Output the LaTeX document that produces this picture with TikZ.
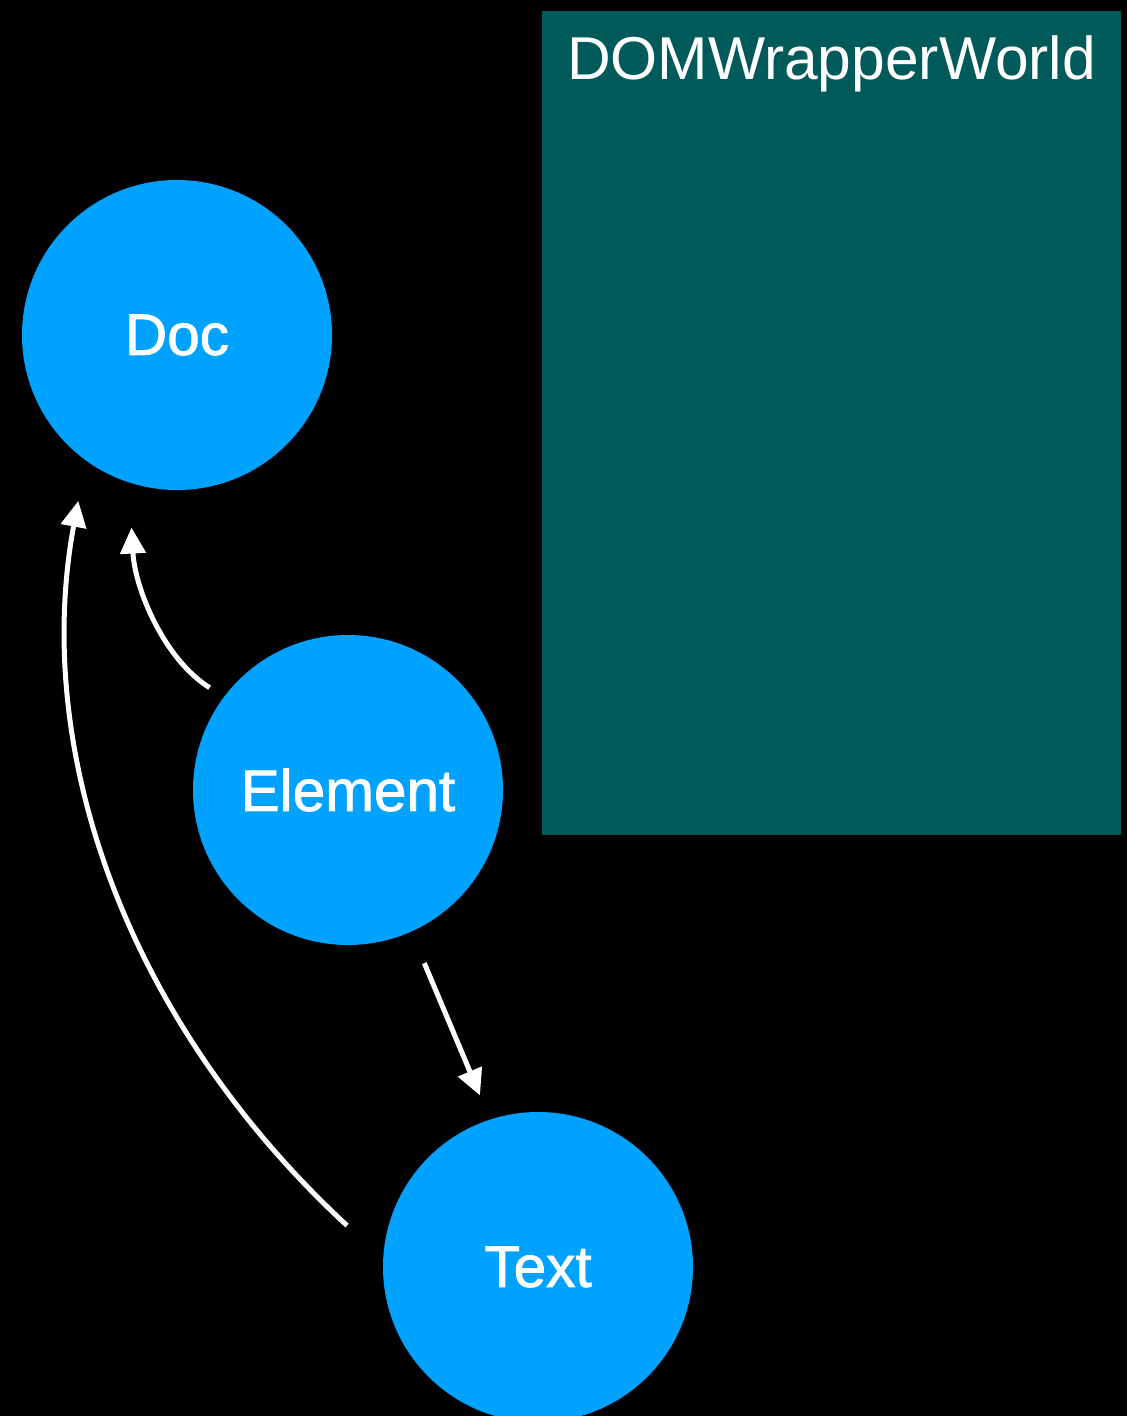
\documentclass[tikz,border=0pt]{standalone}
\usepackage{fontspec}
\setmainfont{Liberation Sans}
\newfontfamily\objfont{Liberation Sans}[FakeBold=1.4]
\usetikzlibrary{arrows.meta}
\definecolor{nodeblue}{RGB}{0,162,255}
\definecolor{worldteal}{RGB}{0,90,90}
\tikzset{
  obj/.style={circle, fill=nodeblue, draw=none, minimum size=310pt, inner sep=0pt,
    text=white, font=\objfont\fontsize{58.5}{62}\selectfont},
  ref/.style={draw=white, line width=5pt, -{Triangle[length=26pt,width=25pt]}},
  worldbox/.style={rectangle, fill=worldteal, draw=none, inner sep=0pt,
    minimum width=579pt, minimum height=824pt, anchor=north west},
  worldtitle/.style={text=white, font=\fontsize{60.5}{64}\selectfont, inner sep=0pt, anchor=base}
}
\begin{document}
\begin{tikzpicture}[x=1pt, y=-1pt]
  \fill[black] (0,0) rectangle (1127,1416);
  \useasboundingbox (0,0) rectangle (1127,1416);
  \clip (0,0) rectangle (1127,1416);

  % isolated world container
  \node[worldbox] (world) at (542,11) {};
  \node[worldtitle] (worldname) at (831.5,79) {DOMWrapperWorld};

  % DOM objects
  \node[obj] (doc) at (177,335) {Doc};
  \node[obj] (element) at (348,790) {Element};
  \node[obj] (text) at (538,1267) {Text};

  % references between the objects
  \draw[ref, shorten <=17pt, shorten >=45pt]
    (element.143) .. controls (165,660) and (135,590) .. (doc.252);
  \draw[ref, shorten <=49pt, shorten >=41pt]
    (text.177) .. controls (125,1020) and (32,750) .. (doc.234);
  \draw[ref, shorten <=34pt, shorten >=26pt]
    (element.-66.6) -- (text.108);
\end{tikzpicture}
\end{document}
